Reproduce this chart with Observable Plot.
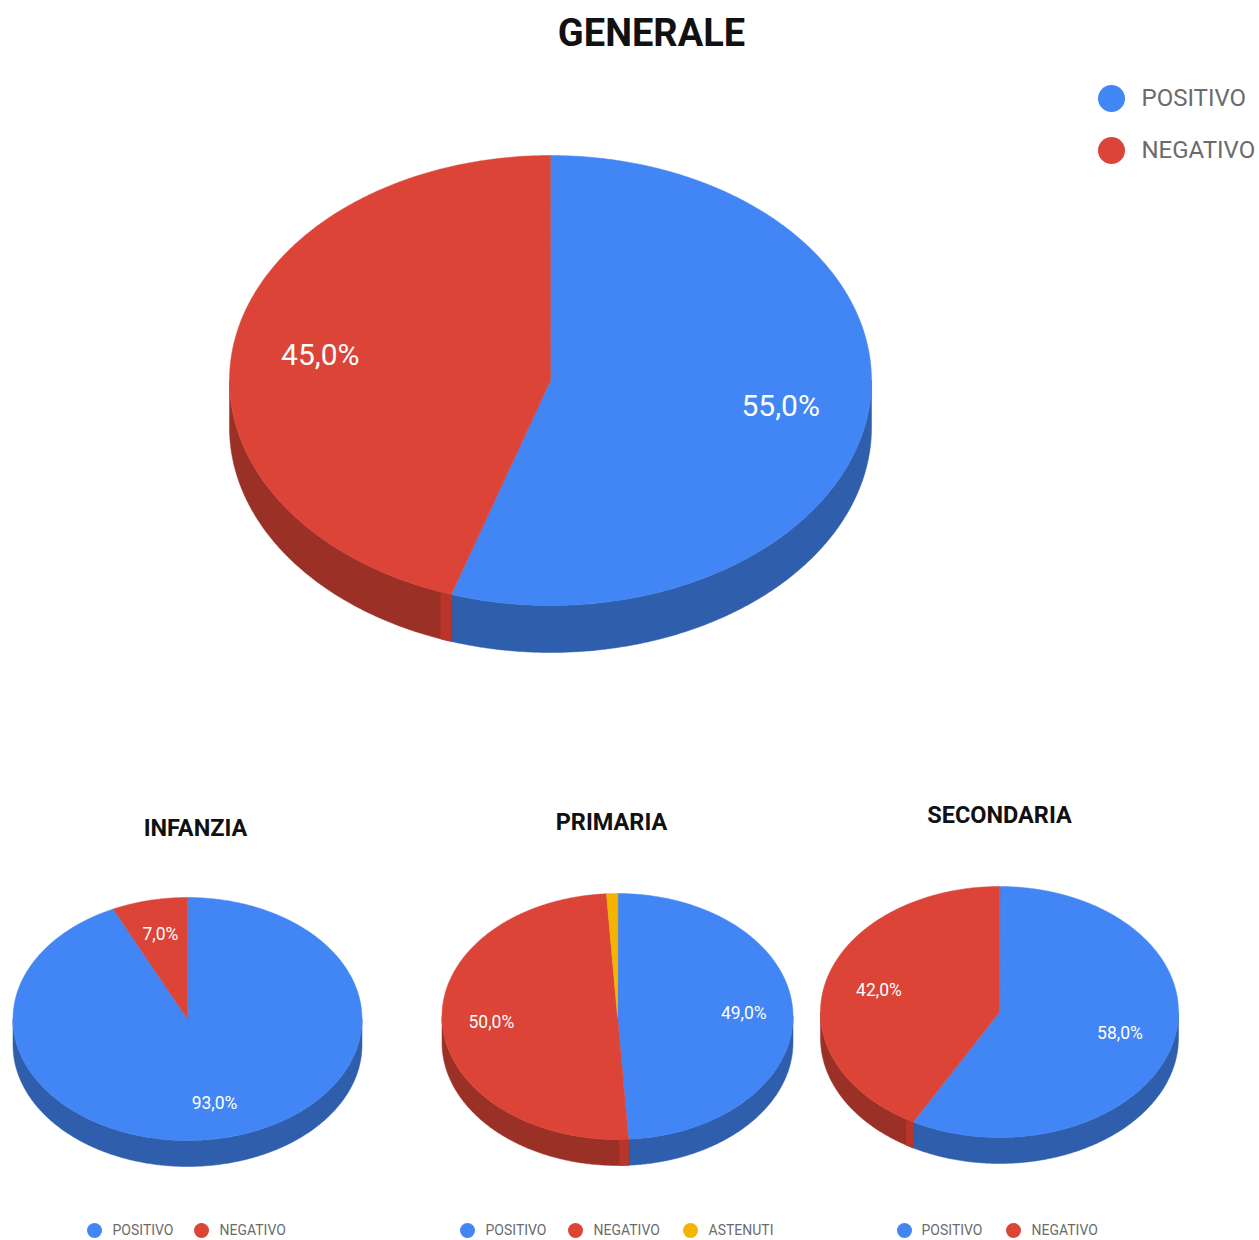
<!DOCTYPE html>
<html lang="it">
<head>
<meta charset="utf-8">
<script src="https://cdn.jsdelivr.net/npm/d3@7"></script>
<script src="https://cdn.jsdelivr.net/npm/@observablehq/plot@0.6"></script>
<style>
html,body{margin:0;padding:0;background:#fff}
svg{display:block}
</style>
</head>
<body>
<div id="chart"></div>
<script>
// ---- data ----
const chartTitles = ["GENERALE", "INFANZIA", "PRIMARIA", "SECONDARIA"];
const generaleCategories = ["POSITIVO", "NEGATIVO"];
const generaleValues = [55, 45];
const infanziaCategories = ["POSITIVO", "NEGATIVO"];
const infanziaValues = [93, 7];
const primariaCategories = ["POSITIVO", "NEGATIVO", "ASTENUTI"];
const primariaValues = [49, 50, 1];
const secondariaCategories = ["POSITIVO", "NEGATIVO"];
const secondariaValues = [58, 42];

// ---- appearance / layout ----
const topColors = {POSITIVO: "#4285F4", NEGATIVO: "#DB4437", ASTENUTI: "#F4B400"};
const sideColors = {POSITIVO: "#2F5EAD", NEGATIVO: "#9B3027", ASTENUTI: "#AD8000"};
const sideEdgeColor = "#B9352A";
const minLabelShare = 2;
const pies = [
  {title: chartTitles[0], cats: generaleCategories, vals: generaleValues, cx: 550, cy: 380, rx: 321, ry: 225, depth: 47, labelSize: 30, labelR: 0.726, edge: 2,
   titleX: 651, titleY: 33, titleSize: 38},
  {title: chartTitles[1], cats: infanziaCategories, vals: infanziaValues, cx: 187, cy: 1018.5, rx: 174.5, ry: 121.5, depth: 26, labelSize: 17.5, labelR: 0.71, edge: 0,
   titleX: 195, titleY: 828, titleSize: 23.5},
  {title: chartTitles[2], cats: primariaCategories, vals: primariaValues, cx: 617, cy: 1016, rx: 175.5, ry: 123, depth: 26, labelSize: 17.5, labelR: 0.72, edge: 3,
   titleX: 611, titleY: 822, titleSize: 23.5},
  {title: chartTitles[3], cats: secondariaCategories, vals: secondariaValues, cx: 999, cy: 1011.5, rx: 179, ry: 125.5, depth: 26, labelSize: 17.5, labelR: 0.695, edge: 2.5,
   titleX: 999, titleY: 815, titleSize: 23.5}
];
const legends = [
  {cats: generaleCategories, size: 24, r: 13.5, items: [[1111, 98, 1141], [1111, 150, 1141]]},
  {cats: infanziaCategories, size: 14, r: 7.5, items: [[94, 1230, 112], [201, 1230, 219]]},
  {cats: primariaCategories, size: 14, r: 7.5, items: [[467, 1230, 485], [575, 1230, 593], [690, 1230, 708]]},
  {cats: secondariaCategories, size: 14, r: 7.5, items: [[904, 1230, 921], [1013, 1230, 1031]]}
];
const rad = d => d * Math.PI / 180;

// ---- geometry derived from the values ----
const sidePolys = [], topPolys = [], labels = [], titles = [], legendDots = [], legendTexts = [];
pies.forEach((p, pi) => {
  const pt = (a, dz = 0) => ({x: p.cx + p.rx * Math.sin(rad(a)), y: p.cy - p.ry * Math.cos(rad(a)) + dz});
  const total = d3.sum(p.vals);
  const addSide = (s0, s1, id, color) => {
    if (s1 <= s0) return;
    const upper = [], lower = [];
    const m = Math.max(2, Math.ceil((s1 - s0) / 0.5));
    for (let k = 0; k <= m; k++) {
      const a = s0 + (s1 - s0) * k / m;
      upper.push({...pt(a), z: id, color});
      lower.unshift({...pt(a, p.depth), z: id, color});
    }
    sidePolys.push(...upper, ...lower);
  };
  let acc = 0;
  p.vals.forEach((v, i) => {
    const a0 = acc / total * 360, a1 = (acc + v) / total * 360;
    acc += v;
    const cat = p.cats[i], id = `${pi}-${i}`;
    const n = Math.max(2, Math.ceil((a1 - a0) / 0.5));
    topPolys.push({x: p.cx, y: p.cy, z: id, color: topColors[cat]});
    for (let k = 0; k <= n; k++) topPolys.push({...pt(a0 + (a1 - a0) * k / n), z: id, color: topColors[cat]});
    const s0 = Math.max(a0, 90), s1 = Math.min(a1, 270);
    addSide(s0, s1, id, sideColors[cat]);
    // the lit strip of the red wall next to the seam with the previous slice
    if (cat === "NEGATIVO" && p.edge > 0 && a0 > 90) addSide(s0, s0 + p.edge, id + "e", sideEdgeColor);
    if (v / total * 100 >= minLabelShare) {
      const mid = (a0 + a1) / 2;
      labels.push({
        x: p.cx + p.labelR * p.rx * Math.sin(rad(mid)),
        y: p.cy - p.labelR * p.ry * Math.cos(rad(mid)),
        text: v.toFixed(1).replace(".", ",") + "%",
        size: p.labelSize
      });
    }
  });
  titles.push({x: p.titleX, y: p.titleY, text: p.title, size: p.titleSize});
});
legends.forEach(l => l.items.forEach(([dx, dy, tx], i) => {
  legendDots.push({x: dx, y: dy, r: l.r, cat: l.cats[i]});
  legendTexts.push({x: tx, y: dy, text: l.cats[i], size: l.size});
}));

const poly = data => Plot.line(data, {
  x: "x", y: "y", z: "z",
  fill: d => d.color, stroke: d => d.color, strokeWidth: 0.5,
  curve: "linear-closed"
});
const sizedText = (data, opts) => d3.groups(data, d => d.size).map(([size, rows]) =>
  Plot.text(rows, {x: "x", y: "y", text: "text", fontSize: size, ...opts}));

const chart = Plot.plot({
  width: 1259, height: 1240,
  margin: 0,
  x: {domain: [0, 1259], range: [0, 1259], axis: null},
  y: {domain: [0, 1240], range: [0, 1240], axis: null},
  color: {type: "identity"},
  style: {fontFamily: "Roboto, sans-serif", background: "#fff"},
  marks: [
    poly(sidePolys),
    poly(topPolys),
    ...sizedText(labels, {fill: "#fff", textAnchor: "middle"}),
    ...sizedText(titles, {fill: "#111", fontWeight: 700, textAnchor: "middle"}),
    ...d3.groups(legendDots, d => d.r).map(([r, rows]) =>
      Plot.dot(rows, {x: "x", y: "y", r, fill: d => topColors[d.cat], stroke: "none"})),
    ...sizedText(legendTexts, {fill: "#6b6b6b", textAnchor: "start"})
  ]
});
document.getElementById("chart").appendChild(chart);
</script>
</body>
</html>
